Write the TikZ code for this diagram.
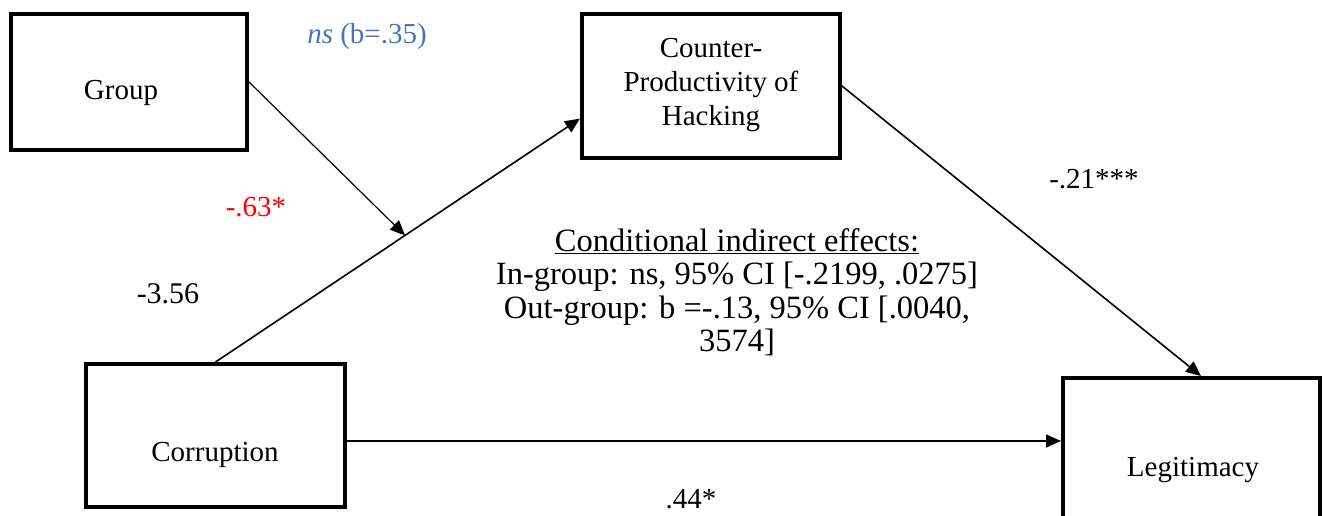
\documentclass[tikz,border=0pt]{standalone}
\usepackage{fontspec}
\setmainfont{Liberation Serif}
\usetikzlibrary{arrows.meta,calc}
\definecolor{nsblue}{HTML}{4472C4}
\definecolor{sigred}{HTML}{FF0000}
\begin{document}
\begin{tikzpicture}[x=1pt,y=-1pt,
  every node/.style={font=\fontsize{29}{33}\selectfont, inner sep=0pt},
  varbox/.style={draw, line width=4pt, rectangle},
  txt/.style={align=center},
  conn/.style={line width=1.6pt, -{Triangle[length=15pt,width=13pt]}},
  thinconn/.style={line width=1.2pt, -{Triangle[length=15pt,width=13pt]}}]
\useasboundingbox (0,0) rectangle (1323,516);
% boxes
\node[varbox, minimum width=236pt, minimum height=136pt] (g) at (129,82) {};
\node[txt] (gt) at (121,93) {Group};
\node[varbox, minimum width=258pt, minimum height=144pt] (cp) at (711,86) {};
\node[txt, font=\fontsize{29}{34}\selectfont] (cpt) at (711,85) {Counter-\\Productivity of\\Hacking};
\node[varbox, minimum width=259pt, minimum height=143pt] (c) at (215.5,435.5) {};
\node[txt] (ct) at (215,455) {Corruption};
\node[varbox, minimum width=257pt, minimum height=178pt] (l) at (1191.5,467) {};
\node[txt] (lt) at (1193,470) {Legitimacy};
% connection points
\coordinate (cpin) at ($(cp.south west)!0.28!(cp.north west)$);
\coordinate (cout) at ($(c.east)+(0,5.5)$);
\coordinate (lin) at ($(l.west)+(0,-26)$);
\coordinate (ltop) at ($(l.north)+(9.5,0)$);
\coordinate (mod) at ($(c.north)!0.52!(cpin)$);
% connectors
\draw[conn] (c.north) -- (cpin);
\draw[thinconn] (g.east) -- (mod);
\draw[conn] (cp.east) -- (ltop);
\draw[conn] (cout) -- (lin);
% labels
\node[text=nsblue] (ns) at (367,37) {\textit{ns} (b=.35)};
\node[text=sigred] (a63) at (256,207) {-.63*};
\node[font=\fontsize{30}{33}\selectfont] (a356) at (168,294) {-3.56};
\node (a21) at (1094,179) {-.21***};
\node (a44) at (691,499) {.44*};
\node[txt, font=\fontsize{32.5}{33.5}\selectfont] (cie) at (737,292) {\underline{Conditional indirect effects:}\\In-group: ns, 95\% CI [-.2199, .0275]\\Out-group: b =-.13, 95\% CI [.0040,\\3574]};
\end{tikzpicture}
\end{document}
